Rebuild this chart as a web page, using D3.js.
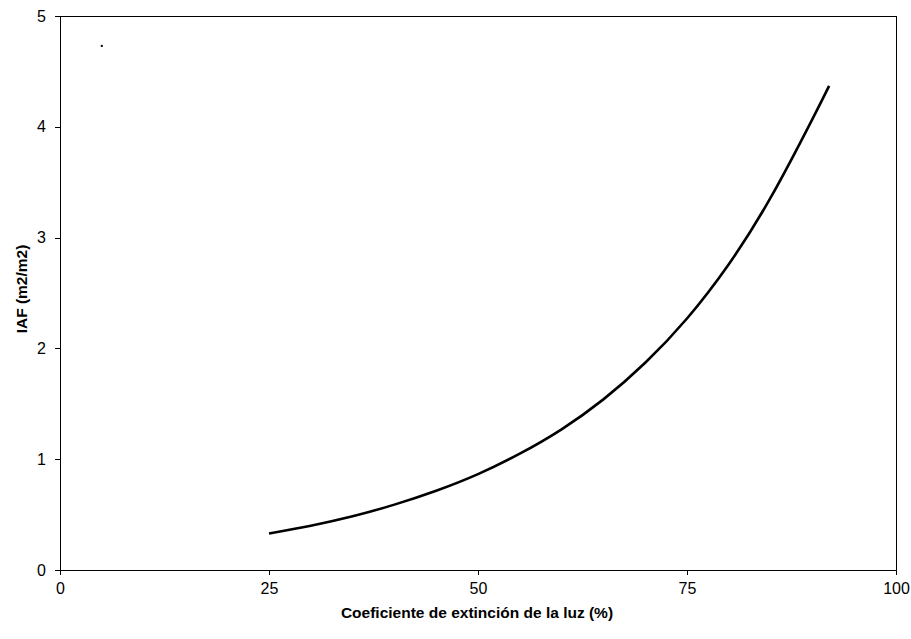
<!DOCTYPE html>
<html>
<head>
<meta charset="utf-8">
<script src="https://cdn.jsdelivr.net/npm/d3@7"></script>
<style>
  html, body { margin: 0; padding: 0; background: #fff; }
  svg { display: block; font-family: "Liberation Sans", Arial, sans-serif; }
</style>
</head>
<body>
<svg id="chart" width="911" height="639"></svg>
<script>
// Light extinction coefficient (%) vs leaf area index
const extincion = [25, 30, 35, 40, 45, 50, 55, 60, 65, 70, 75, 80, 85, 90, 92];
const iaf = [0.33, 0.40, 0.485, 0.59, 0.715, 0.865, 1.05, 1.27, 1.54, 1.87, 2.27, 2.76, 3.36, 4.07, 4.37];
// isolated point in the upper-left corner
const puntoX = [5];
const puntoY = [4.73];
const xTicks = [0, 25, 50, 75, 100];
const yTicks = [0, 1, 2, 3, 4, 5];

const svg = d3.select("#chart");

const x = d3.scaleLinear().domain([0, 100]).range([60, 896]);
const y = d3.scaleLinear().domain([0, 5]).range([570, 16]);

// plot area frame
svg.append("rect")
  .attr("x", x(0)).attr("y", y(5))
  .attr("width", x(100) - x(0)).attr("height", y(0) - y(5))
  .attr("fill", "none").attr("stroke", "#000").attr("stroke-width", 1)
  .attr("shape-rendering", "crispEdges");

const xAxis = svg.append("g")
  .attr("transform", `translate(0,${y(0)})`)
  .call(d3.axisBottom(x).tickValues(xTicks).tickFormat(d3.format("d")).tickSize(5).tickPadding(8));
const yAxis = svg.append("g")
  .attr("transform", `translate(${x(0)},0)`)
  .call(d3.axisLeft(y).tickValues(yTicks).tickFormat(d3.format("d")).tickSize(5).tickPadding(9));

[xAxis, yAxis].forEach(g => {
  g.attr("font-family", null).attr("font-size", null);
  g.selectAll("path, line").attr("stroke", "#000").attr("shape-rendering", "crispEdges");
  g.selectAll("text").attr("fill", "#000")
    .style("font-family", "'Liberation Sans', Arial, sans-serif")
    .style("font-size", "16px");
});

// axis titles
svg.append("text")
  .attr("x", 477).attr("y", 618)
  .attr("text-anchor", "middle")
  .style("font-size", "15.5px").style("font-weight", "bold")
  .text("Coeficiente de extinción de la luz (%)");

svg.append("text")
  .attr("transform", `translate(27,289) rotate(-90)`)
  .attr("text-anchor", "middle")
  .style("font-size", "15.5px").style("font-weight", "bold")
  .text("IAF (m2/m2)");

// curve
const pts = extincion.map((d, i) => [d, iaf[i]]);
svg.append("path")
  .datum(pts)
  .attr("fill", "none")
  .attr("stroke", "#000")
  .attr("stroke-width", 2.6)
  .attr("d", d3.line().x(d => x(d[0])).y(d => y(d[1])).curve(d3.curveNatural));

// isolated point
svg.selectAll(".punto")
  .data(puntoX.map((d, i) => [d, puntoY[i]]))
  .enter().append("rect")
  .attr("class", "punto")
  .attr("x", d => x(d[0]) - 1).attr("y", d => y(d[1]) - 1)
  .attr("width", 2).attr("height", 2)
  .attr("fill", "#000");
</script>
</body>
</html>
